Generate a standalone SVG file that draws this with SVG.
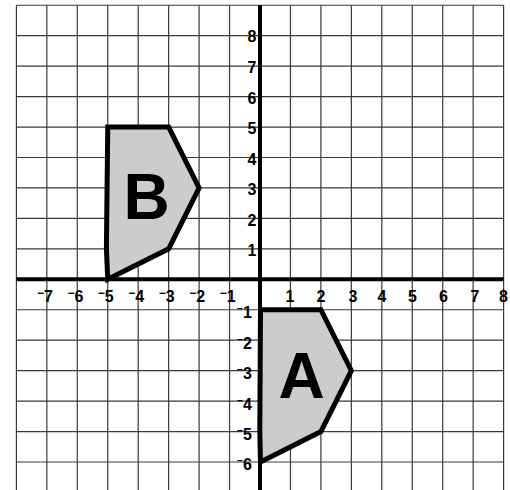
<svg xmlns="http://www.w3.org/2000/svg" width="510" height="490" viewBox="0 0 510 490">
<style>
.g{stroke:#3a3a3a;stroke-width:1.2;fill:none}
.ax{stroke:#000;stroke-width:4;fill:none}
.sh{fill:#cccccc;stroke:#000;stroke-width:5;stroke-linejoin:miter}
.l{font-family:"Liberation Sans",Arial,sans-serif;font-weight:bold;font-size:16px;fill:#000}
.m{font-size:12px}
.ms{font-size:10px}
.big{font-family:"Liberation Sans",Arial,sans-serif;font-weight:bold;font-size:64px;fill:#000;text-anchor:middle}
</style>
<rect width="510" height="490" fill="#fff"/>
<g id="grid">
<path class="g" d="M16.4 5.25V490M46.85 5.25V490M77.3 5.25V490M107.75 5.25V490M138.2 5.25V490M168.65 5.25V490M199.1 5.25V490M229.55 5.25V490M290.45 5.25V490M320.9 5.25V490M351.35 5.25V490M381.8 5.25V490M412.25 5.25V490M442.7 5.25V490M473.15 5.25V490M503.6 5.25V490"/>
<path class="g" d="M16.4 5.25H503.6M16.4 35.7H503.6M16.4 66.15H503.6M16.4 96.6H503.6M16.4 127.05H503.6M16.4 157.5H503.6M16.4 187.95H503.6M16.4 218.4H503.6M16.4 248.85H503.6M16.4 309.75H503.6M16.4 340.2H503.6M16.4 370.65H503.6M16.4 401.1H503.6M16.4 431.55H503.6M16.4 462H503.6"/>
</g>
<g id="axes">
<path class="ax" d="M16.4 279.3H503.6"/>
<path class="ax" d="M260 5.25V490"/>
</g>
<g id="shape-B">
<polygon class="sh" points="107.75,127.05 168.65,127.05 199.1,187.95 168.65,248.85 107.75,279.3 106.4,248.85"/>
<text class="big" x="146.5" y="219.3">B</text>
</g>
<g id="shape-A">
<polygon class="sh" points="260.5,309.75 320.9,309.75 351.35,370.65 320.9,431.55 260.5,462 259.8,431.55"/>
<text class="big" x="301.5" y="398.3">A</text>
</g>
<g id="x-labels" class="l">
<text x="52.85" y="302" text-anchor="end"><tspan class="m" dy="-5">−</tspan><tspan dy="5">7</tspan></text>
<text x="83.3" y="302" text-anchor="end"><tspan class="m" dy="-5">−</tspan><tspan dy="5">6</tspan></text>
<text x="113.75" y="302" text-anchor="end"><tspan class="m" dy="-5">−</tspan><tspan dy="5">5</tspan></text>
<text x="144.2" y="302" text-anchor="end"><tspan class="m" dy="-5">−</tspan><tspan dy="5">4</tspan></text>
<text x="174.65" y="302" text-anchor="end"><tspan class="m" dy="-5">−</tspan><tspan dy="5">3</tspan></text>
<text x="205.1" y="302" text-anchor="end"><tspan class="m" dy="-5">−</tspan><tspan dy="5">2</tspan></text>
<text x="235.55" y="302" text-anchor="end"><tspan class="m" dy="-5">−</tspan><tspan dy="5">1</tspan></text>
<text x="290" y="302" text-anchor="middle">1</text>
<text x="321" y="302" text-anchor="middle">2</text>
<text x="353" y="302" text-anchor="middle">3</text>
<text x="382" y="302" text-anchor="middle">4</text>
<text x="412.5" y="302" text-anchor="middle">5</text>
<text x="443.5" y="302" text-anchor="middle">6</text>
<text x="475" y="302" text-anchor="middle">7</text>
<text x="503.5" y="302" text-anchor="middle">8</text>
</g>
<g id="y-labels" class="l" text-anchor="end">
<text x="256.5" y="42">8</text>
<text x="256.5" y="73">7</text>
<text x="256.5" y="103.5">6</text>
<text x="256.5" y="134">5</text>
<text x="256.5" y="164.5">4</text>
<text x="256.5" y="195">3</text>
<text x="256.5" y="225.5">2</text>
<text x="256.5" y="255.5">1</text>
<text x="252" y="318"><tspan class="ms" dy="-6">−</tspan><tspan dy="6">1</tspan></text>
<text x="252" y="348.5"><tspan class="ms" dy="-6">−</tspan><tspan dy="6">2</tspan></text>
<text x="252" y="379"><tspan class="ms" dy="-6">−</tspan><tspan dy="6">3</tspan></text>
<text x="252" y="409.5"><tspan class="ms" dy="-6">−</tspan><tspan dy="6">4</tspan></text>
<text x="252" y="440"><tspan class="ms" dy="-6">−</tspan><tspan dy="6">5</tspan></text>
<text x="252" y="470"><tspan class="ms" dy="-6">−</tspan><tspan dy="6">6</tspan></text>
</g>
</svg>
